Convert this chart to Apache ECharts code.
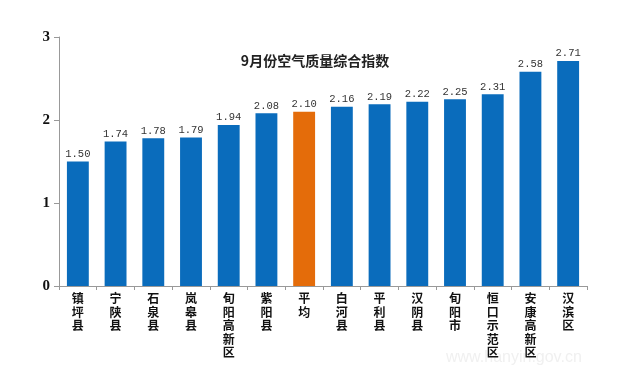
<!DOCTYPE html>
<html><head><meta charset="utf-8">
<script src="https://cdn.jsdelivr.net/npm/echarts@6/dist/echarts.min.js"></script>
<style>html,body{margin:0;padding:0;background:#fff}#c{width:636px;height:385px}</style>
</head><body><div id="c"></div>
<script>
const categories = ['镇坪县','宁陕县','石泉县','岚皋县','旬阳高新区','紫阳县','平均','白河县','平利县','汉阴县','旬阳市','恒口示范区','安康高新区','汉滨区'];
const values = [1.50,1.74,1.78,1.79,1.94,2.08,2.10,2.16,2.19,2.22,2.25,2.31,2.58,2.71];
const highlight = '平均';
const yTicks = [0,1,2,3];
const chart = echarts.init(document.getElementById('c'));
chart.setOption({
  backgroundColor:'#fff',
  animation:false,
  title:{text:'9月份空气质量综合指数',left:310,top:49,textAlign:'center',
    textStyle:{fontSize:14,fontWeight:'bold',color:'#222',fontFamily:'Noto Sans CJK SC'}},
  grid:{left:59,right:49,top:37,bottom:99},
  xAxis:{type:'category',data:categories,
    axisLine:{lineStyle:{color:'#999'}},
    axisTick:{show:true,alignWithLabel:false,length:4,lineStyle:{color:'#999'}},
    axisLabel:{interval:0,margin:6,fontSize:12,fontWeight:'bold',color:'#111',lineHeight:13.5,
      fontFamily:'Noto Sans CJK SC',formatter:v=>v.split('').join('\n'),verticalAlign:'top'}},
  yAxis:{type:'value',min:yTicks[0],max:yTicks[yTicks.length-1],interval:1,
    splitLine:{show:false},
    axisLine:{show:true,lineStyle:{color:'#999'}},
    axisTick:{show:true,length:5,lineStyle:{color:'#999'}},
    axisLabel:{fontSize:15,fontWeight:'bold',color:'#111',margin:9,fontFamily:'Liberation Serif'}},
  series:[{type:'bar',barWidth:'58%',
    data:values.map((v,i)=>({value:v,itemStyle:{color:categories[i]===highlight?'#e46c0a':'#0a6cbc'}})),
    label:{show:true,position:'top',distance:2,formatter:p=>p.value.toFixed(2),
      fontSize:10.5,color:'#333',fontFamily:'Liberation Mono'}}],
  graphic:[{type:'text',left:446,top:350,style:{text:'www.hanyin.gov.cn',fontSize:16,fill:'#f0f0f0',fontFamily:'Liberation Sans'}}]
});
</script></body></html>
